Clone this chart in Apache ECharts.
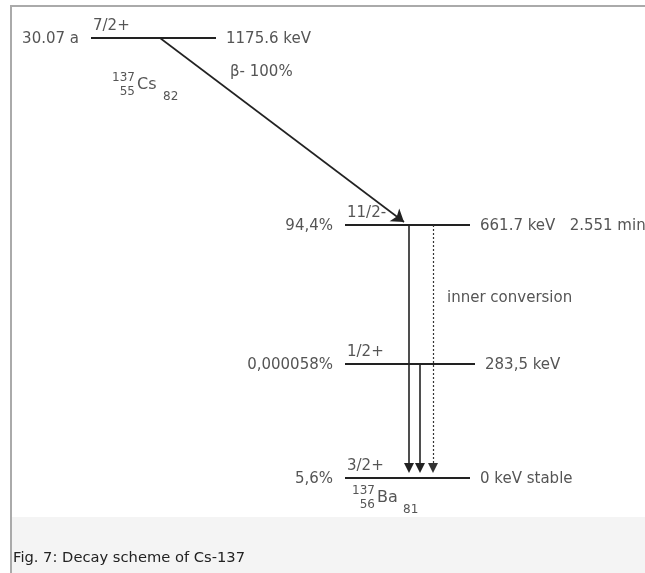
<!DOCTYPE html>
<html>
<head>
<meta charset="utf-8">
<script src="https://cdn.jsdelivr.net/npm/echarts@6/dist/echarts.min.js"></script>
<style>
html, body { margin: 0; padding: 0; background: #fff; }
#chart { width: 645px; height: 573px; }
</style>
</head>
<body>
<div id="chart"></div>
<script>
// energy levels, top to bottom
const levelEnergy = [1175.6, 661.7, 283.5, 0]
const levelSpin = ['7/2+', '11/2-', '1/2+', '3/2+']
const levelLeftText = ['30.07 a', '94,4%', '0,000058%', '5,6%']
const levelRightText = ['1175.6 keV', '661.7 keV   2.551 min', '283,5 keV', '0 keV stable']
const levelHeight = [440, 253, 114, 0] // schematic height above ground state
const levelFrom = [91, 345, 345, 345]
const levelTo = [216, 470, 475, 470]

// beta decay Cs -> Ba*
const betaLine = [160, 440, 404, 256]
const betaLabel = 'β- 100%'

// gamma / conversion transitions
const gammaX = [409, 420]
const gammaFrom = [253, 114]
const gammaTo = 10
const convX = 433
const convFrom = 253
const convLabel = 'inner conversion'

// nuclide labels
const nuclideSymbol = ['Cs', 'Ba']
const nuclideMass = ['137', '137']
const nuclideZ = ['55', '56']
const nuclideN = ['82', '81']
const nuclideX = [137, 377]
const nuclideH = [393, -20]

const caption = 'Fig. 7: Decay scheme of Cs-137'

const FONT = '"DejaVu Sans", sans-serif'
const TXT = '#555'
const LINE = '#222'

const txt = (text, x, y, size, align, vAlign) => ({
  type: 'text',
  x, y,
  style: { text, fill: TXT, font: size + 'px ' + FONT, align, verticalAlign: vAlign }
})

let chart = echarts.init(document.getElementById('chart'))

chart.setOption({
  animation: false,
  title: {
    text: caption,
    left: 8, top: 546,
    textStyle: { fontFamily: FONT, fontSize: 14.7, fontWeight: 'normal', color: '#222' }
  },
  graphic: [
    { type: 'rect', z: -1, shape: { x: 12, y: 517, width: 633, height: 56 }, style: { fill: '#f4f4f4' } },
    { type: 'rect', shape: { x: 10, y: 5, width: 2, height: 568 }, style: { fill: '#aaa' } },
    { type: 'rect', shape: { x: 10, y: 5, width: 635, height: 2 }, style: { fill: '#aaa' } }
  ],
  grid: { left: 0, right: 0, top: 0, bottom: 0 },
  xAxis: { type: 'value', min: 0, max: 645, show: false },
  yAxis: { type: 'value', min: -95, max: 478, show: false },
  series: [
    {
      // level lines with their labels
      type: 'custom',
      clip: false,
      data: levelHeight.map((h, i) => [levelFrom[i], levelTo[i], h, i]),
      renderItem: (params, api) => {
        const i = api.value(3)
        const p0 = api.coord([api.value(0), api.value(2)])
        const p1 = api.coord([api.value(1), api.value(2)])
        return {
          type: 'group',
          children: [
            { type: 'line', shape: { x1: p0[0], y1: p0[1], x2: p1[0], y2: p1[1] }, style: { stroke: LINE, lineWidth: 2 } },
            txt(levelLeftText[i], p0[0] - 12, p0[1] + 1, 15, 'right', 'middle'),
            txt(levelSpin[i], p0[0] + 2, p0[1] - 4, 15, 'left', 'bottom'),
            txt(levelRightText[i], p1[0] + 10, p1[1] + 1, 15, 'left', 'middle')
          ]
        }
      }
    },
    {
      // nuclide symbols
      type: 'custom',
      clip: false,
      data: nuclideX.map((x, i) => [x, nuclideH[i], i]),
      renderItem: (params, api) => {
        const i = api.value(2)
        const p = api.coord([api.value(0), api.value(1)])
        return {
          type: 'group',
          children: [
            txt(nuclideMass[i], p[0] - 2, p[1] - 7, 12, 'right', 'middle'),
            txt(nuclideZ[i], p[0] - 2, p[1] + 7, 12, 'right', 'middle'),
            txt(nuclideSymbol[i], p[0], p[1], 16, 'left', 'middle'),
            txt(nuclideN[i], p[0] + 26, p[1] + 12, 12, 'left', 'middle')
          ]
        }
      }
    },
    {
      // transition labels
      type: 'custom',
      clip: false,
      data: [[230, 406, 0], [convX + 14, 180, 1]],
      renderItem: (params, api) => {
        const p = api.coord([api.value(0), api.value(1)])
        return txt([betaLabel, convLabel][api.value(2)], p[0], p[1], 15, 'left', 'middle')
      }
    },
    {
      type: 'lines',
      coordinateSystem: 'cartesian2d',
      symbol: ['none', 'arrow'],
      symbolSize: 12,
      lineStyle: { color: LINE, width: 1.6, opacity: 1 },
      data: [{ coords: [[betaLine[0], betaLine[1]], [betaLine[2], betaLine[3]]] }]
    },
    {
      type: 'lines',
      coordinateSystem: 'cartesian2d',
      symbol: ['none', 'triangle'],
      symbolSize: 10,
      lineStyle: { color: LINE, width: 1.6, opacity: 1 },
      data: gammaX.map((x, i) => ({ coords: [[x, gammaFrom[i]], [x, gammaTo]] }))
    },
    {
      type: 'lines',
      coordinateSystem: 'cartesian2d',
      symbol: ['none', 'triangle'],
      symbolSize: 10,
      lineStyle: { color: '#333', width: 1.2, type: [2, 2], opacity: 1 },
      data: [{ coords: [[convX, convFrom], [convX, gammaTo]] }]
    }
  ]
})
</script>
</body>
</html>
